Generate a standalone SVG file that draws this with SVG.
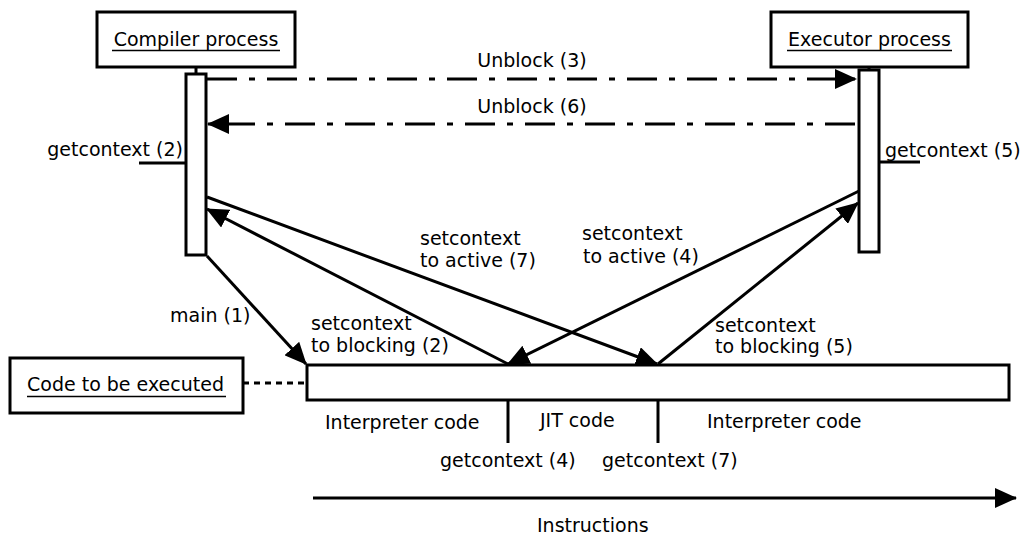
<svg xmlns="http://www.w3.org/2000/svg" width="1028" height="539" viewBox="0 0 1028 539">
  <style>
    text { font-family: "DejaVu Sans", "Liberation Sans", sans-serif; font-size: 19px; fill: #000; }
    .box { fill: #fff; stroke: #000; stroke-width: 3; }
    .line { fill: none; stroke: #000; stroke-width: 3; }
    .uline { stroke: #000; stroke-width: 1.5; }
    .dashdot { fill: none; stroke: #000; stroke-width: 3; stroke-dasharray: 30 12 6 12; }
    .dotted { fill: none; stroke: #000; stroke-width: 3; stroke-dasharray: 6 5; }
    .mid { text-anchor: middle; }
  </style>
  <defs>
    <marker id="arrow" viewBox="0 0 22 20" refX="21" refY="10" markerWidth="22" markerHeight="20" markerUnits="userSpaceOnUse" orient="auto">
      <path d="M0,0 L22,10 L0,20 Z" fill="#000"/>
    </marker>
  </defs>

  <rect width="1028" height="539" fill="#fff"/>

  <!-- Compiler process -->
  <g id="compiler">
    <rect class="box" x="97" y="12" width="198" height="55"/>
    <text class="mid" x="196" y="45.5">Compiler process</text>
    <line class="uline" x1="112" y1="50.5" x2="280" y2="50.5"/>
    <line class="line" x1="196" y1="67" x2="196" y2="74"/>
    <rect class="box" x="186" y="74" width="20" height="181"/>
  </g>

  <!-- Executor process -->
  <g id="executor">
    <rect class="box" x="771" y="12" width="197" height="55"/>
    <text class="mid" x="869.5" y="45.5">Executor process</text>
    <line class="uline" x1="787" y1="50.5" x2="952" y2="50.5"/>
    <line class="line" x1="869" y1="67" x2="869" y2="70"/>
    <rect class="box" x="859" y="70" width="20" height="182"/>
  </g>

  <!-- Code to be executed -->
  <g id="code-note">
    <rect class="box" x="10" y="358" width="233" height="55"/>
    <text x="27" y="391">Code to be executed</text>
    <line class="uline" x1="27" y1="396.5" x2="226" y2="396.5"/>
  </g>

  <g id="code">
    <rect class="box" x="307" y="365" width="702" height="35"/>
    <line class="line" x1="508" y1="400" x2="508" y2="443"/>
    <line class="line" x1="658" y1="400" x2="658" y2="443"/>
    <text x="325" y="429">Interpreter code</text>
    <text x="540" y="427">JIT code</text>
    <text x="707" y="428">Interpreter code</text>
    <text x="440" y="467">getcontext (4)</text>
    <text x="602" y="467">getcontext (7)</text>
  </g>

  <!-- getcontext stubs on the lifelines -->
  <g id="getcontext-stubs">
    <line class="line" x1="139" y1="163" x2="186" y2="163"/>
    <text x="183" y="156" text-anchor="end">getcontext (2)</text>
    <line class="line" x1="879" y1="162" x2="920" y2="162"/>
    <text x="885" y="157">getcontext (5)</text>
  </g>

  <!-- Messages -->
  <g id="connectors">
    <line class="dashdot" x1="207" y1="79" x2="856" y2="79" marker-end="url(#arrow)"/>
    <line class="dashdot" x1="855" y1="124" x2="208" y2="124" marker-end="url(#arrow)"/>
    <line class="line" x1="207" y1="256" x2="306" y2="364" marker-end="url(#arrow)"/>
    <line class="line" x1="207" y1="197" x2="657" y2="364" marker-end="url(#arrow)"/>
    <line class="line" x1="508" y1="364" x2="207" y2="209" marker-end="url(#arrow)"/>
    <line class="line" x1="859" y1="191" x2="508" y2="364" marker-end="url(#arrow)"/>
    <line class="line" x1="658" y1="364" x2="858" y2="203" marker-end="url(#arrow)"/>
    <line class="dotted" x1="243" y1="383" x2="307" y2="383"/>
    <line class="line" x1="313" y1="498" x2="1016" y2="498" marker-end="url(#arrow)"/>
  </g>

  <g id="labels">
    <text class="mid" x="532" y="67">Unblock (3)</text>
    <text class="mid" x="532" y="113">Unblock (6)</text>
    <text x="170" y="322">main (1)</text>
    <text x="311" y="330">setcontext</text>
    <text x="311" y="352">to blocking (2)</text>
    <text x="420" y="245">setcontext</text>
    <text x="420" y="267">to active (7)</text>
    <text x="582" y="240">setcontext</text>
    <text x="583" y="263">to active (4)</text>
    <text x="715" y="332">setcontext</text>
    <text x="715" y="353">to blocking (5)</text>
    <text x="537" y="532">Instructions</text>
  </g>
</svg>
